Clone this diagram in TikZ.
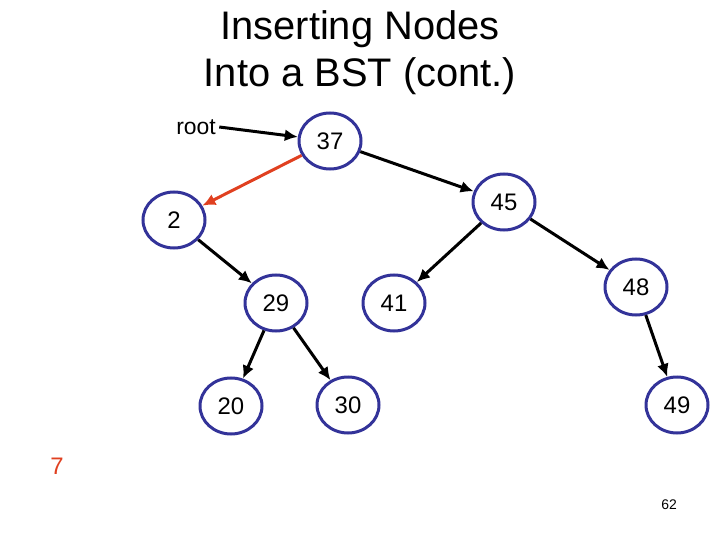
\documentclass[tikz,border=0pt]{standalone}
\usepackage{fontspec}
\setmainfont{Liberation Sans}
\usetikzlibrary{shapes.geometric,arrows.meta}
\definecolor{navy}{RGB}{51,51,153}
\definecolor{arrred}{RGB}{224,64,32}
\begin{document}
\begin{tikzpicture}[x=1bp,y=-1bp,
  bst/.style={ellipse,draw=navy,fill=white,line width=3bp,minimum width=62bp,minimum height=56bp,inner sep=0pt,font=\fontsize{24}{28}\selectfont},
  link/.style={line width=3bp,-{Latex[length=13bp,width=12bp]}},
  ]
\useasboundingbox (0,0) rectangle (720,540);
\node[align=center,font=\fontsize{40}{47}\selectfont] (title) at (360,53) {Inserting Nodes\\Into a BST (cont.)};
\node[font=\fontsize{23}{27}\selectfont] (root) at (196,127) {root};
\node[bst] (n37) at (330,141) {37};
\node[bst] (n2)  at (174,220) {2};
\node[bst] (n45) at (504,202) {45};
\node[bst] (n29) at (276,303) {29};
\node[bst] (n41) at (394,303) {41};
\node[bst] (n48) at (636,287) {48};
\node[bst] (n20) at (231,406) {20};
\node[bst] (n30) at (348,405) {30};
\node[bst] (n49) at (677,405) {49};
\node[text=arrred,font=\fontsize{24}{28}\selectfont] (seven) at (57,466) {7};
\node[font=\fontsize{14}{16}\selectfont] (pg) at (669,505) {62};
\draw[link] (root.east) -- (n37);
\draw[link,arrred] (n37) -- (n2);
\draw[link] (n37) -- (n45);
\draw[link] (n45) -- (n41);
\draw[link] (n45) -- (n48);
\draw[link] (n2) -- (n29);
\draw[link] (n29) -- (n20);
\draw[link] (n29) -- (n30);
\draw[link] (n48) -- (n49);
\end{tikzpicture}
\end{document}
